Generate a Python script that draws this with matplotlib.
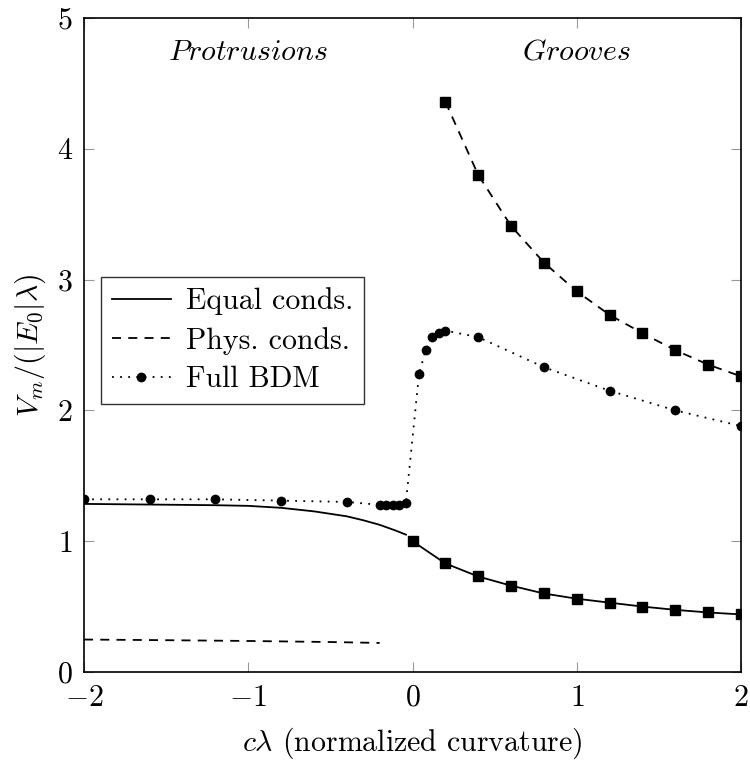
import matplotlib
matplotlib.use('Agg')
import matplotlib.pyplot as plt

plt.rcParams['mathtext.fontset'] = 'cm'
plt.rcParams['font.family'] = 'serif'
plt.rcParams['font.serif'] = ['cmr10']
plt.rcParams['axes.formatter.use_mathtext'] = True
plt.rcParams['axes.unicode_minus'] = True

# equal conductivities, protrusion side (line only) and groove side (markers)
eq_left_x = [-2.0, -1.6, -1.2, -1.0, -0.8, -0.6, -0.4, -0.3, -0.2, -0.1, -0.04]
eq_left_y = [1.285, 1.28, 1.275, 1.27, 1.255, 1.228, 1.19, 1.16, 1.125, 1.08, 1.05]
eq_right_x = [0.0, 0.2, 0.4, 0.6, 0.8, 1.0, 1.2, 1.4, 1.6, 1.8, 2.0]
eq_right_y = [1.0, 0.83, 0.73, 0.66, 0.60, 0.56, 0.53, 0.50, 0.475, 0.455, 0.44]

# physical conductivities
ph_left_x = [-2.0, -1.5, -1.0, -0.5, -0.2]
ph_left_y = [0.248, 0.243, 0.237, 0.229, 0.222]
ph_right_x = [0.2, 0.4, 0.6, 0.8, 1.0, 1.2, 1.4, 1.6, 1.8, 2.0]
ph_right_y = [4.36, 3.80, 3.41, 3.13, 2.91, 2.73, 2.59, 2.46, 2.35, 2.26]

# full BDM
bdm_x = [-2.0, -1.6, -1.2, -0.8, -0.4, -0.2, -0.16, -0.12, -0.08, -0.04,
         0.04, 0.08, 0.12, 0.16, 0.2, 0.4, 0.8, 1.2, 1.6, 2.0]
bdm_y = [1.32, 1.32, 1.32, 1.31, 1.30, 1.278, 1.275, 1.275, 1.278, 1.295,
         2.28, 2.46, 2.56, 2.59, 2.61, 2.56, 2.33, 2.15, 2.00, 1.88]

fs = 21.5

fig = plt.figure(figsize=(7.5, 7.65), dpi=100)
ax = fig.add_axes([0.112, 0.1216, 0.876, 0.8549])

lw = 1.3
ax.plot(eq_left_x, eq_left_y, color='black', lw=lw, label='Equal conds.')
ax.plot(eq_right_x, eq_right_y, color='black', lw=lw, marker='s', ms=6.5)
ax.plot(ph_left_x, ph_left_y, color='black', lw=lw, ls=(0, (5, 4)),
        label='Phys. conds.')
ax.plot(ph_right_x, ph_right_y, color='black', lw=lw, ls=(0, (5, 4)),
        marker='s', ms=6.5)
ax.plot(bdm_x, bdm_y, color='black', lw=lw, ls=(0, (1, 3.5)), marker='o',
        ms=6, label='Full BDM')

ax.text(-1.0, 4.74, r'$\mathit{Protrusions}$', ha='center', va='center',
        fontsize=fs)
ax.text(1.0, 4.74, r'$\mathit{Grooves}$', ha='center', va='center',
        fontsize=fs)

ax.set_xlim(-2, 2)
ax.set_ylim(0, 5)
ax.set_xticks([-2, -1, 0, 1, 2])
ax.set_yticks([0, 1, 2, 3, 4, 5])
ax.tick_params(direction='in', length=7, color='#999999', labelsize=fs,
               top=True, right=True)
ax.tick_params(axis='x', pad=9)
ax.tick_params(axis='y', pad=8)
for s in ax.spines.values():
    s.set_linewidth(1.2)

ax.set_xlabel(r'$c\lambda$ (normalized curvature)', fontsize=fs, labelpad=10)
ax.set_ylabel(r'$V_m/(|E_0|\lambda)$', fontsize=fs, labelpad=6)

leg = ax.legend(loc='upper left', bbox_to_anchor=(0.026, 0.604), fontsize=fs,
                frameon=True, fancybox=False, edgecolor='black',
                handlelength=2.0, handletextpad=0.5, borderpad=0.35,
                labelspacing=0.38, borderaxespad=0)
leg.get_frame().set_linewidth(1.0)

fig.savefig('out.png', dpi=100)
